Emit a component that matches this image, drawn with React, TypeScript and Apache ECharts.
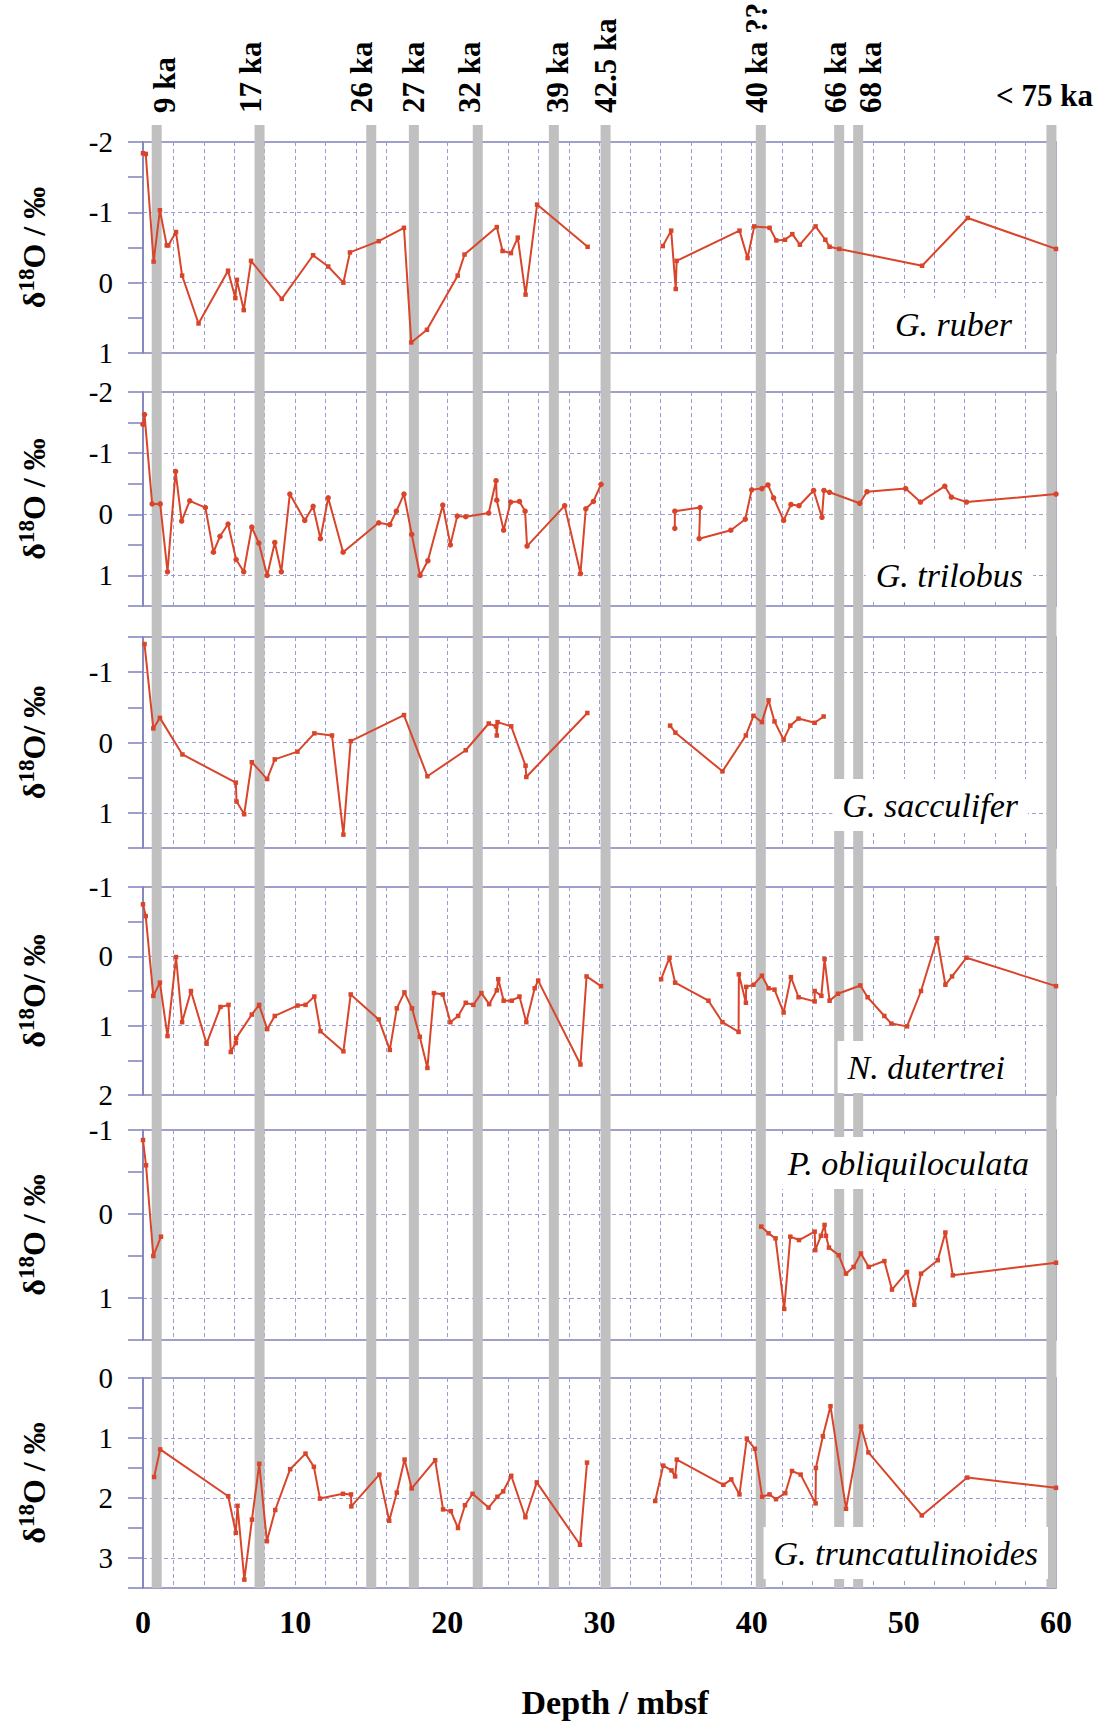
import React, { useEffect, useRef } from 'react';
import * as echarts from 'echarts';

const FONT = '"Liberation Serif", "Times New Roman", serif';
const RED = '#d9452b';
const BORDER = '#8080bc';
const GRIDC = '#9c9cd2';
const BARC = '#c0c0c0';

// ---- age-marker bars (depth in mbsf) ----
const markDepths = [0.9, 7.66, 15.0, 17.8, 22.0, 27.0, 30.4, 40.6, 45.75, 47.0, 59.7];
const markLabels = ['9 ka', '17 ka', '26 ka', '27 ka', '32 ka', '39 ka', '42.5 ka', '40 ka ??', '66 ka', '68 ka', '< 75 ka'];
// layout only: horizontal nudge of each label, and which one is horizontal
const markLabelDx = [8, -9, -10, 0, -8, 4, 0, -4, -4, 12, -7];
const markLabelHorizontal = [false, false, false, false, false, false, false, false, false, false, true];

// ---- G. ruber ----
const ruberDepth = [0.0, 0.18, 0.7, 1.11, 1.56, 1.66, 2.17, 2.57, 3.65, 5.59, 6.07, 6.17, 6.62, 7.1, 9.12, 11.18, 12.17, 13.17, 13.6, 15.49, 17.15, 17.63, 18.66, 20.68, 21.13, 23.25, 23.63, 24.18, 24.63, 25.14, 25.9, 29.22, null, 34.16, 34.71, 35.01, 35.07, 39.2, 39.73, 40.17, 41.18, 41.62, 42.19, 42.67, 43.17, 44.2, 44.84, 45.12, 45.76, 51.2, 54.2, 60.0];
const ruberD18O = [-1.84, -1.83, -0.30, -1.03, -0.53, -0.53, -0.72, -0.10, 0.58, -0.17, 0.22, -0.04, 0.39, -0.31, 0.23, -0.39, -0.23, 0.0, -0.43, -0.59, -0.78, 0.85, 0.67, -0.10, -0.40, -0.79, -0.45, -0.42, -0.64, 0.17, -1.11, -0.51, null, -0.52, -0.74, 0.09, -0.31, -0.74, -0.35, -0.80, -0.78, -0.60, -0.61, -0.69, -0.54, -0.80, -0.61, -0.51, -0.48, -0.24, -0.92, -0.48];

// ---- G. trilobus ----
const trilobusDepth = [0.0, 0.1, 0.6, 1.13, 1.61, 2.14, 2.54, 3.07, 4.1, 4.63, 5.06, 5.59, 6.12, 6.62, 7.15, 7.61, 8.16, 8.66, 9.09, 9.65, 10.63, 11.18, 11.66, 12.17, 13.15, 15.49, 16.22, 16.65, 17.15, 17.66, 18.21, 18.72, 19.7, 20.2, 20.65, 21.21, 22.72, 23.2, 23.25, 23.7, 24.16, 24.74, 25.11, 25.24, 27.71, 28.75, 29.1, 29.6, 30.1, null, 34.95, 34.95, 36.61, 36.55, 38.63, 39.58, 40.0, 40.67, 41.07, 41.44, 42.1, 42.58, 43.11, 44.07, 44.62, 44.75, 45.12, 47.1, 47.58, 50.12, 51.09, 52.69, 53.13, 54.12, 60.0];
const trilobusD18O = [-1.47, -1.63, -0.17, -0.17, 0.94, -0.70, 0.11, -0.22, -0.11, 0.62, 0.36, 0.16, 0.74, 0.94, 0.21, 0.47, 1.0, 0.46, 0.94, -0.33, 0.10, -0.13, 0.40, -0.27, 0.62, 0.14, 0.17, -0.05, -0.33, 0.33, 1.0, 0.76, -0.15, 0.50, 0.03, 0.04, -0.02, -0.55, -0.23, 0.26, -0.20, -0.21, -0.05, 0.52, -0.14, 0.97, -0.09, -0.21, -0.49, null, 0.23, -0.05, -0.11, 0.40, 0.26, 0.08, -0.40, -0.42, -0.48, -0.27, 0.10, -0.16, -0.14, -0.39, 0.05, -0.39, -0.36, -0.18, -0.37, -0.42, -0.20, -0.46, -0.28, -0.20, -0.33];

// ---- G. sacculifer ----
const sacculiferDepth = [0.1, 0.68, 1.11, 2.59, 6.1, 6.15, 6.65, 7.15, 8.16, 8.66, 10.15, 11.26, 12.42, 13.17, 13.65, 17.15, 18.69, 21.21, 22.72, 23.2, 23.25, 23.3, 24.2, 25.14, 25.19, 29.2, null, 34.64, 34.99, 38.08, 39.62, 40.12, 40.67, 41.11, 41.5, 42.1, 42.54, 43.08, 44.14, 44.73];
const sacculiferD18O = [-1.40, -0.20, -0.35, 0.17, 0.57, 0.84, 1.02, 0.28, 0.52, 0.24, 0.13, -0.13, -0.10, 1.31, -0.02, -0.39, 0.48, 0.11, -0.27, -0.23, -0.10, -0.29, -0.23, 0.33, 0.49, -0.42, null, -0.24, -0.14, 0.41, -0.10, -0.38, -0.29, -0.60, -0.30, -0.04, -0.24, -0.34, -0.28, -0.37];

// ---- N. dutertrei ----
const dutertreiDepth = [0.0, 0.18, 0.68, 1.11, 1.61, 2.17, 2.57, 3.15, 4.18, 5.09, 5.62, 5.77, 6.1, 6.12, 7.15, 7.63, 8.16, 8.66, 10.15, 10.68, 11.26, 11.66, 13.17, 13.65, 15.49, 16.22, 16.68, 17.18, 17.68, 18.19, 18.69, 19.12, 19.7, 20.2, 20.71, 21.21, 21.71, 22.24, 22.75, 23.25, 23.35, 23.7, 24.23, 24.74, 25.19, 25.74, 25.97, 28.75, 29.15, 30.1, null, 34.05, 34.6, 34.97, 37.16, 38.08, 39.14, 39.16, 39.62, 39.64, 40.12, 40.67, 41.11, 41.5, 42.1, 42.58, 43.08, 44.14, 44.14, 44.58, 44.79, 45.12, 45.67, 47.14, 47.62, 48.72, 49.18, 50.21, 51.13, 52.19, 52.73, 53.17, 54.12, 60.0];
const dutertreiD18O = [-0.75, -0.58, 0.57, 0.38, 1.15, 0.01, 0.95, 0.50, 1.26, 0.73, 0.70, 1.38, 1.25, 1.18, 0.84, 0.70, 1.05, 0.86, 0.71, 0.70, 0.58, 1.08, 1.37, 0.55, 0.91, 1.35, 0.75, 0.52, 0.75, 1.16, 1.61, 0.53, 0.55, 0.95, 0.86, 0.67, 0.70, 0.53, 0.69, 0.49, 0.33, 0.64, 0.64, 0.58, 0.95, 0.46, 0.35, 1.56, 0.29, 0.43, null, 0.33, 0.02, 0.38, 0.64, 0.95, 1.09, 0.26, 0.67, 0.44, 0.41, 0.28, 0.46, 0.48, 0.81, 0.30, 0.59, 0.65, 0.50, 0.57, 0.04, 0.64, 0.54, 0.42, 0.59, 0.86, 0.97, 1.01, 0.50, -0.26, 0.41, 0.29, 0.02, 0.43];

// ---- P. obliquiloculata ----
const obliquiDepth = [0.0, 0.2, 0.68, 1.18, null, 40.63, 41.11, 41.57, 42.14, 42.54, 43.11, 44.14, 44.18, 44.55, 44.79, 44.88, 45.08, 45.72, 46.2, 46.7, 47.18, 47.69, 48.72, 49.22, 50.21, 50.69, 51.13, 52.23, 52.73, 53.22, 60.0];
const obliquiD18O = [-0.88, -0.58, 0.50, 0.27, null, 0.15, 0.23, 0.29, 1.13, 0.27, 0.31, 0.21, 0.43, 0.26, 0.13, 0.26, 0.40, 0.49, 0.71, 0.63, 0.47, 0.63, 0.56, 0.90, 0.69, 1.08, 0.71, 0.55, 0.22, 0.73, 0.58];

// ---- G. truncatulinoides ----
const truncDepth = [0.73, 1.13, 5.6, 6.1, 6.21, 6.66, 7.16, 7.64, 8.14, 8.69, 9.67, 10.68, 11.23, 11.63, 13.14, 13.67, 13.69, 15.53, 16.18, 16.68, 17.19, 17.66, 19.2, 19.72, 20.23, 20.7, 21.16, 21.66, 22.71, 23.29, 23.67, 24.2, 25.13, 25.88, 28.72, 29.18, null, 33.66, 34.19, 34.73, 34.97, 35.08, 38.14, 38.66, 39.2, 39.68, 40.21, 40.69, 41.17, 41.6, 42.21, 42.65, 43.22, 44.2, 44.22, 44.68, 45.18, 46.2, 47.19, 47.67, 51.18, 54.17, 60.0];
const truncD18O = [1.65, 1.19, 1.97, 2.58, 2.13, 3.36, 2.36, 1.43, 2.72, 2.2, 1.52, 1.26, 1.48, 2.01, 1.93, 1.94, 2.14, 1.61, 2.38, 1.91, 1.36, 1.84, 1.37, 2.19, 2.22, 2.5, 2.12, 1.93, 2.16, 1.98, 1.89, 1.63, 2.32, 1.74, 2.78, 1.41, null, 2.05, 1.46, 1.54, 1.64, 1.36, 1.78, 1.69, 1.94, 1.01, 1.18, 1.98, 1.94, 2.02, 1.92, 1.55, 1.61, 2.09, 1.50, 0.97, 0.47, 2.18, 0.81, 1.24, 2.29, 1.66, 1.83];

// ---- panel definitions ----
const speciesNames = ['G. ruber', 'G. trilobus', 'G. sacculifer', 'N. dutertrei', 'P. obliquiloculata', 'G. truncatulinoides'];
const yMin = [-2, -2, -1.5, -1, -1, 0];
const yMax = [1, 1.5, 1.5, 2, 1.5, 3.5];
const yTitles = [
  '{a|δ}{b|18}{a|O / ‰}',
  '{a|δ}{b|18}{a|O / ‰}',
  '{a|δ}{b|18}{a|O/ ‰}',
  '{a|δ}{b|18}{a|O/ ‰}',
  '{a|δ}{b|18}{a|O / ‰}',
  '{a|δ}{b|18}{a|O / ‰}',
];
const xTickLabels = [0, 10, 20, 30, 40, 50, 60];
const xTitle = 'Depth / mbsf';

// layout (pixels)
const panelTop = [142, 392, 637, 887, 1130, 1378];
const panelHeight = [211, 214, 211, 208, 210, 210];
const labelPos = [
  [1022, 324],
  [1033, 575],
  [1028, 805],
  [1015, 1067],
  [1039, 1163],
  [1048, 1553],
];

function zip(d: (number | null)[], v: (number | null)[]) {
  return d.map((x, i) => (x === null || v[i] === null ? ['-', '-'] : [x, v[i]]));
}

const seriesData = [
  zip(ruberDepth, ruberD18O),
  zip(trilobusDepth, trilobusD18O),
  zip(sacculiferDepth, sacculiferD18O),
  zip(dutertreiDepth, dutertreiD18O),
  zip(obliquiDepth, obliquiD18O),
  zip(truncDepth, truncD18O),
];

function buildOption() {
  const grids: any[] = [];
  const xAxes: any[] = [];
  const yAxes: any[] = [];
  const series: any[] = [];

  for (let i = 0; i < 6; i++) {
    grids.push({
      left: 143,
      right: 42,
      top: panelTop[i],
      height: panelHeight[i],
      show: true,
      borderColor: BORDER,
      borderWidth: 1.5,
      backgroundColor: 'transparent',
    });
    xAxes.push({
      gridIndex: i,
      type: 'value',
      min: 0,
      max: 60,
      interval: 2,
      axisLine: { show: false },
      axisTick: { show: false },
      axisLabel: {
        show: i === 5,
        formatter: (v: number) => (xTickLabels.indexOf(v) >= 0 ? String(v) : ''),
        fontFamily: FONT,
        fontWeight: 'bold',
        fontSize: 32,
        color: '#000',
        margin: 18,
      },
      splitLine: { show: true, lineStyle: { color: GRIDC, type: [4, 3], width: 1 } },
    });
    yAxes.push({
      gridIndex: i,
      type: 'value',
      inverse: true,
      min: yMin[i],
      max: yMax[i],
      interval: 0.5,
      axisLine: { show: true, lineStyle: { color: BORDER, width: 1.5 } },
      axisTick: { show: true, length: 15, lineStyle: { color: BORDER, width: 1.5 } },
      axisLabel: {
        formatter: (v: number) => (Math.abs(v - Math.round(v)) < 1e-6 ? String(Math.round(v)) : ''),
        fontFamily: FONT,
        fontSize: 29,
        color: '#000',
        margin: 30,
      },
      splitLine: { show: false },
      name: yTitles[i],
      nameLocation: 'middle',
      nameGap: 90,
      nameRotate: 90,
      nameTextStyle: {
        fontFamily: FONT,
        fontWeight: 'bold',
        fontSize: 32,
        color: '#000',
        rich: {
          a: { fontFamily: FONT, fontWeight: 'bold', fontSize: 32, color: '#000', lineHeight: 38 },
          b: { fontFamily: FONT, fontWeight: 'bold', fontSize: 23, color: '#000', lineHeight: 16, verticalAlign: 'top' },
        },
      },
    });
    const ints: number[] = [];
    for (let v = Math.ceil(yMin[i]); v <= Math.floor(yMax[i]); v++) {
      if (v > yMin[i] && v < yMax[i]) ints.push(v);
    }
    series.push({
      type: 'line',
      name: speciesNames[i],
      xAxisIndex: i,
      yAxisIndex: i,
      data: seriesData[i],
      z: 3,
      silent: true,
      symbol: i === 1 ? 'circle' : 'rect',
      symbolSize: i === 1 ? 5.5 : 4.5,
      showSymbol: true,
      showAllSymbol: true,
      connectNulls: false,
      lineStyle: { color: RED, width: 2 },
      itemStyle: { color: RED },
      markLine: {
        silent: true,
        z: 0,
        symbol: ['none', 'none'],
        label: { show: false },
        lineStyle: { color: GRIDC, type: [4, 3], width: 1 },
        data: ints.map((v) => ({ yAxis: v })),
      },
    });
  }

  // full-height grid for the age bars
  grids.push({ left: 143, right: 42, top: 125, height: 1463, show: false });
  xAxes.push({ gridIndex: 6, type: 'value', min: 0, max: 60, show: false });
  yAxes.push({ gridIndex: 6, type: 'value', min: 0, max: 1, show: false });

  series.push({
    type: 'custom',
    xAxisIndex: 6,
    yAxisIndex: 6,
    z: 1,
    silent: true,
    data: markDepths.map((d) => [d, 0]),
    renderItem: (params: any, api: any) => {
      const top = api.coord([api.value(0), 1]);
      const bot = api.coord([api.value(0), 0]);
      const w = 10;
      return {
        type: 'rect',
        shape: { x: top[0] - w / 2, y: top[1], width: w, height: bot[1] - top[1] },
        style: { fill: BARC },
      };
    },
  });

  series.push({
    type: 'custom',
    xAxisIndex: 6,
    yAxisIndex: 6,
    z: 5,
    silent: true,
    data: markDepths.map((d, i) => [d, i]),
    renderItem: (params: any, api: any) => {
      const i = params.dataIndex;
      const p = api.coord([api.value(0), 1]);
      const horiz = markLabelHorizontal[i];
      return {
        type: 'text',
        x: p[0] + markLabelDx[i],
        y: horiz ? p[1] - 30 : p[1] - 12,
        rotation: horiz ? 0 : Math.PI / 2,
        style: {
          text: markLabels[i],
          font: `bold 31px ${FONT}`,
          fill: '#000',
          align: horiz ? 'center' : 'left',
          verticalAlign: 'middle',
        },
      };
    },
  });

  const graphic: any[] = speciesNames.map((name, i) => ({
    type: 'text',
    x: labelPos[i][0],
    y: labelPos[i][1],
    z: 100,
    silent: true,
    style: {
      text: name,
      font: `italic 34px ${FONT}`,
      fill: '#000',
      align: 'right',
      verticalAlign: 'middle',
      backgroundColor: '#ffffff',
      padding: [9, 10, 9, 10],
    },
  }));
  graphic.push({
    type: 'text',
    x: 615,
    y: 1702,
    z: 100,
    silent: true,
    style: {
      text: xTitle,
      font: `bold 34px ${FONT}`,
      fill: '#000',
      align: 'center',
      verticalAlign: 'middle',
    },
  });

  return {
    animation: false,
    backgroundColor: '#ffffff',
    grid: grids,
    xAxis: xAxes,
    yAxis: yAxes,
    series,
    graphic,
  };
}

export default function App() {
  const ref = useRef<HTMLDivElement>(null);
  useEffect(() => {
    document.body.style.margin = '0';
    document.body.style.overflow = 'hidden';
    const chart = echarts.init(ref.current as HTMLDivElement, null, { renderer: 'svg' });
    chart.setOption(buildOption() as any);
    return () => chart.dispose();
  }, []);
  return <div ref={ref} style={{ width: 1098, height: 1721 }} />;
}
